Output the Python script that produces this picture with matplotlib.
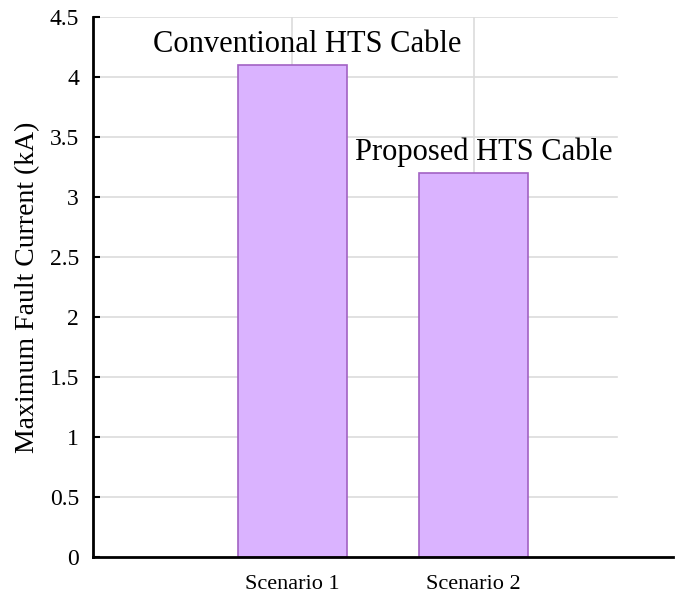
import matplotlib
matplotlib.use("Agg")
import matplotlib.pyplot as plt

plt.rcParams['font.family'] = ['Liberation Serif', 'DejaVu Serif']

scenarios = ["Scenario 1", "Scenario 2"]
fault_current = [4.1, 3.2]
bar_labels = ["Conventional HTS Cable", "Proposed HTS Cable"]
y_ticks = [0, 0.5, 1, 1.5, 2, 2.5, 3, 3.5, 4, 4.5]
y_tick_labels = ["0", "0.5", "1", "1.5", "2", "2.5", "3", "3.5", "4", "4.5"]

fig = plt.figure(figsize=(6.78, 5.97), dpi=100)
ax = fig.add_axes([93/678, 40/597, 580/678, 539.7/597])

positions = [1, 2]
ax.set_xlim(-0.1, 3.1)
ax.set_ylim(0, 4.5)

# light grid, stopping short of the right end of the x axis
grid_right = 2.79
for y in y_ticks[1:]:
    ax.plot([-0.1, grid_right], [y, y], color="#dcdcdc", lw=1.2, zorder=0)
for x in positions:
    ax.plot([x, x], [0, 4.5], color="#dcdcdc", lw=1.2, zorder=0)

ax.bar(positions, fault_current, width=0.6, color="#dab3ff",
       edgecolor="#a262c4", linewidth=1.2, zorder=2)

offsets = [0.08, 0.055]
for x, v, lab, dx in zip(positions, fault_current, bar_labels, offsets):
    ax.text(x + dx, v + 0.11, lab, ha="center", va="baseline", fontsize=22)

ax.set_xticks(positions)
ax.set_xticklabels(scenarios, fontsize=16)
ax.set_yticks(y_ticks)
ax.set_yticklabels(y_tick_labels, fontsize=17)
ax.tick_params(direction="in", length=5, width=1.5, colors="black")
ax.tick_params(axis="y", pad=10)
ax.tick_params(axis="x", pad=13)
ax.set_ylabel("Maximum Fault Current (kA)", fontsize=20, labelpad=7)

for s in ["top", "right"]:
    ax.spines[s].set_visible(False)
for s in ["left", "bottom"]:
    ax.spines[s].set_linewidth(2)

fig.savefig("out.png", dpi=100)
